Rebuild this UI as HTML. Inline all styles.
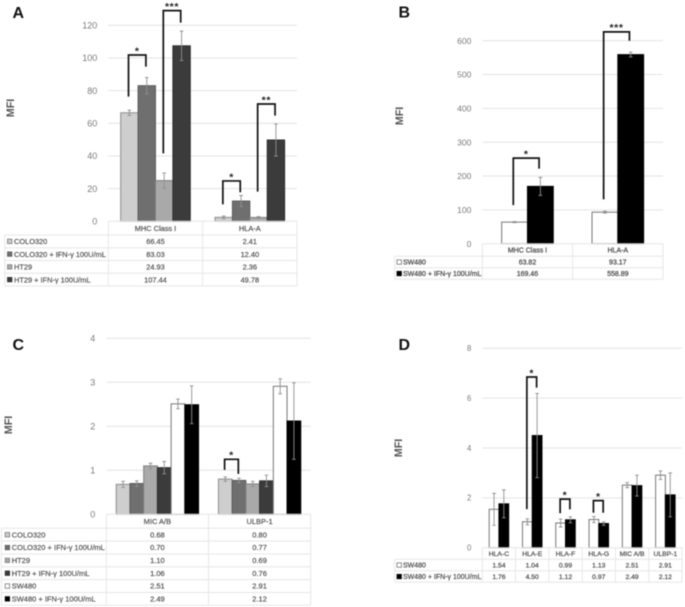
<!DOCTYPE html>
<html lang="en">
<head>
<meta charset="utf-8">
<title>MFI bar charts, panels A to D</title>
<style>
html,body{margin:0;padding:0;background:#fff;width:685px;height:607px;overflow:hidden}
svg{display:block;filter:blur(0.6px)}
text{font-family:"Liberation Sans","DejaVu Sans",sans-serif}
.letter{font-size:16px;font-weight:700;fill:#111}
.ytitle{font-size:10.8px;font-weight:700;fill:#555}
</style>
</head>
<body>
<svg id="figure" xmlns="http://www.w3.org/2000/svg" width="685" height="607" viewBox="0 0 685 607">
  <g id="panel-a">
    <text class="letter" x="12.5" y="18">A</text>
    <text class="ytitle" transform="translate(14,108) rotate(-90)" text-anchor="middle">MFI</text>
  </g>
  <g id="panel-b">
    <text class="letter" x="398.5" y="17.5">B</text>
    <text class="ytitle" transform="translate(403,116) rotate(-90)" text-anchor="middle">MFI</text>
  </g>
  <g id="panel-c">
    <text class="letter" x="12.5" y="350">C</text>
    <text class="ytitle" transform="translate(12,425) rotate(-90)" text-anchor="middle">MFI</text>
  </g>
  <g id="panel-d">
    <text class="letter" x="398.5" y="350">D</text>
    <text class="ytitle" transform="translate(402,448) rotate(-90)" text-anchor="middle">MFI</text>
  </g>
</svg>
<script>
const seriesColoFull = ["COLO320","COLO320 + IFN-γ 100U/mL","HT29","HT29 + IFN-γ 100U/mL"];
const seriesAllSix = ["COLO320","COLO320 + IFN-γ 100U/mL","HT29","HT29 + IFN-γ 100U/mL","SW480","SW480 + IFN-γ 100U/mL"];
const seriesSw = ["SW480","SW480 + IFN-γ 100U/mL"];

const panelACategories = ["MHC Class I","HLA-A"];
const panelATicks = [0,20,40,60,80,100,120];
const panelAValues = [[66.45,2.41],[83.03,12.40],[24.93,2.36],[107.44,49.78]];
const panelAErrors = [[1.6,0.8],[5,3.4],[4.7,0.5],[9,9.8]];
const panelABrackets = [[0,0,1,76.3,101.8,94.7,"*"],[0,2,3,41.6,129,121.6,"***"],[1,0,1,10.4,24.7,17.8,"*"],[1,2,3,18.2,71.8,64.7,"**"]];

const panelBCategories = ["MHC Class I","HLA-A"];
const panelBTicks = [0,100,200,300,400,500,600];
const panelBValues = [[63.82,93.17],[169.46,558.89]];
const panelBErrors = [[1.5,3],[26.6,7]];
const panelBBrackets = [[0,0,1,114,253,222,"*"],[1,0,1,131,626,600,"***"]];

const panelCCategories = ["MIC A/B","ULBP-1"];
const panelCTicks = [0,1,2,3,4];
const panelCValues = [[0.68,0.80],[0.70,0.77],[1.10,0.69],[1.06,0.76],[2.51,2.91],[2.49,2.12]];
const panelCErrors = [[0.07,0.05],[0.06,0.05],[0.06,0.06],[0.14,0.13],[0.11,0.17],[0.43,0.87]];
const panelCBrackets = [[1,0,1,1.01,1.25,0.92,"*"]];

const panelDCategories = ["HLA-C","HLA-E","HLA-F","HLA-G","MIC A/B","ULBP-1"];
const panelDTicks = [0,2,4,6,8];
const panelDValues = [[1.54,1.04,0.99,1.13,2.51,2.91],[1.76,4.50,1.12,0.97,2.49,2.12]];
const panelDErrors = [[0.64,0.12,0.16,0.12,0.1,0.17],[0.56,1.69,0.12,0.07,0.42,0.88]];
const panelDBrackets = [[1,0,1,1.55,6.85,6.42,"*"],[2,0,1,1.38,1.95,1.54,"*"],[3,0,1,1.40,1.89,1.40,"*"]];

const SVGNS = "http://www.w3.org/2000/svg";
const LIGHT = {fill:"#cecece",stroke:"#8c8c8c"};
const MID = {fill:"#6f6f6f",stroke:"#5c5c5c"};
const PALE = {fill:"#a9a9a9",stroke:"#808080"};
const DARK = {fill:"#3b3b3b",stroke:"#2e2e2e"};
const WHITE = {fill:"#ffffff",stroke:"#777777"};
const BLACK = {fill:"#000000",stroke:"#000000"};

function make(tag, parent, props, content){
  const el = document.createElementNS(SVGNS, tag);
  for (const k in props) el.setAttribute(k, props[k]);
  if (content !== undefined) el.textContent = content;
  parent.appendChild(el);
  return el;
}

function drawPanel(cfg){
  const root = document.getElementById(cfg.id);
  const tag = cfg.id;
  const cats = cfg.categories, vals = cfg.values, errs = cfg.errors;
  const n = vals.length;
  const gw = (cfg.x1 - cfg.x0) / cats.length;
  const margin = (gw - n * cfg.barW) / 2;
  const maxV = cfg.ticks[cfg.ticks.length - 1];
  const yS = v => cfg.y0 - v / maxV * (cfg.y0 - cfg.yTop);
  const xS = (g, s) => cfg.x0 + g * gw + margin + s * cfg.barW;
  const textStyle = {"font-weight":cfg.tableWeight,fill:"#555",stroke:"#555","stroke-width":cfg.tableStroke};

  cfg.ticks.forEach(t => {
    if (t !== 0) {
      const grid = make("line", root, {x1:cfg.x0,x2:cfg.x1,y1:yS(t),y2:yS(t),stroke:"#e4e4e4","stroke-width":1});
      
      
    }
    const lab = make("text", root, {x:cfg.x0 - 11,y:yS(t) + cfg.tickFont * 0.36,"text-anchor":"end","font-size":cfg.tickFont,fill:"#7a7a7a"}, String(t));
    
    
  });

  vals.forEach((row, s) => {
    row.forEach((v, g) => {
      const st = cfg.styles[s];
      const bar = make("rect", root, {x:xS(g,s),y:yS(v),width:cfg.barW,height:cfg.y0 - yS(v),fill:st.fill,stroke:st.stroke,"stroke-width":1});
      
      
    });
  });

  vals.forEach((row, s) => {
    row.forEach((v, g) => {
      const cx = xS(g,s) + cfg.barW / 2;
      const e = errs[s][g];
      const lo = yS(v - e), hi = yS(v + e);
      const d = "M" + cx + " " + hi + "V" + lo + "M" + (cx - 1.8) + " " + hi + "H" + (cx + 1.8) + "M" + (cx - 1.8) + " " + lo + "H" + (cx + 1.8);
      const eb = make("path", root, {d:d,fill:"none",stroke:"#8f8f8f","stroke-width":0.9});
      
      
    });
  });

  cfg.brackets.forEach((b, i) => {
    const xa = xS(b[0], b[1]) + 0.45 * cfg.barW;
    const xb = xS(b[0], b[2]) + 0.45 * cfg.barW;
    const d = "M" + xa + " " + yS(b[3]) + "V" + yS(b[4]) + "H" + xb + "V" + yS(b[5]);
    const br = make("path", root, {d:d,fill:"none",stroke:"#111","stroke-width":1.7});
    
    
    const star = make("text", root, {x:(xa + xb) / 2,y:yS(b[4]) - 0.7,"text-anchor":"middle","font-size":10.5,"letter-spacing":0.6,"font-weight":700,fill:"#222"}, b[6]);
    
    
  });

  const rows = cfg.series.length;
  const yBottom = cfg.headBottom + rows * cfg.rowH;
  const lineStyle = {stroke:"#e6e6e6","stroke-width":1};
  const addLine = (x1,y1,x2,y2,name) => {
    const ln = make("line", root, Object.assign({x1:x1,y1:y1,x2:x2,y2:y2}, lineStyle));
    
    
  };
  addLine(cfg.x0, cfg.y0, cfg.x1, cfg.y0, tag + '-x-axis-line');
  for (let r = 0; r <= rows; r++) {
    const yy = cfg.headBottom + r * cfg.rowH;
    addLine(cfg.tableLeft, yy, cfg.x1, yy, tag + '-table-row-line-' + r);
  }
  addLine(cfg.tableLeft, cfg.headBottom, cfg.tableLeft, yBottom, tag + '-table-left-border');
  for (let g = 0; g <= cats.length; g++) {
    const xx = cfg.x0 + g * gw;
    addLine(xx, cfg.y0, xx, yBottom, tag + '-table-column-line-' + g);
  }

  cats.forEach((c, g) => {
    const t = make("text", root, Object.assign({x:cfg.x0 + (g + 0.5) * gw,y:(cfg.y0 + cfg.headBottom) / 2 + cfg.tableFont * 0.36,"text-anchor":"middle","font-size":cfg.tableFont}, textStyle), c);
    
    
  });

  cfg.series.forEach((name, s) => {
    const top = cfg.headBottom + s * cfg.rowH;
    const mid = top + cfg.rowH / 2;
    const st = cfg.styles[s];
    const sw = make("rect", root, {x:cfg.swatchX,y:mid - 2.2,width:4.4,height:4.4,fill:st.fill,stroke:s === 0 || st === WHITE || st === LIGHT ? "#777" : st.stroke,"stroke-width":0.8});
    
    
    const lab = make("text", root, Object.assign({x:cfg.labelX,y:mid + cfg.labelFont * 0.36,"font-size":cfg.labelFont}, textStyle), name);
    
    
    cats.forEach((c, g) => {
      const val = make("text", root, Object.assign({x:cfg.x0 + (g + 0.5) * gw,y:mid + cfg.tableFont * 0.36,"text-anchor":"middle","font-size":cfg.tableFont}, textStyle), vals[s][g].toFixed(2));
      
      
    });
  });
}

drawPanel({id:"panel-a",categories:panelACategories,series:seriesColoFull,ticks:panelATicks,values:panelAValues,errors:panelAErrors,brackets:panelABrackets,
  styles:[LIGHT,MID,PALE,DARK],x0:108.3,x1:297,y0:221.3,yTop:25.3,barW:17.4,headBottom:235,rowH:12.75,tableLeft:4.7,swatchX:7.5,labelX:14,tickFont:9,tableFont:7.4,labelFont:7.4,tableWeight:400,tableStroke:0.2});
drawPanel({id:"panel-b",categories:panelBCategories,series:seriesSw,ticks:panelBTicks,values:panelBValues,errors:panelBErrors,brackets:panelBBrackets,
  styles:[WHITE,BLACK],x0:482.3,x1:663,y0:243.7,yTop:40.7,barW:25.8,headBottom:256.3,rowH:11.5,tableLeft:394.7,swatchX:397,labelX:403,tickFont:8.5,tableFont:7,labelFont:7,tableWeight:400,tableStroke:0.3});
drawPanel({id:"panel-c",categories:panelCCategories,series:seriesAllSix,ticks:panelCTicks,values:panelCValues,errors:panelCErrors,brackets:panelCBrackets,
  styles:[LIGHT,MID,PALE,DARK,WHITE,BLACK],x0:106.3,x1:310.7,y0:514.3,yTop:338.3,barW:13.72,headBottom:528.3,rowH:12.83,tableLeft:1.3,swatchX:5.2,labelX:11.7,tickFont:9,tableFont:7.5,labelFont:7.5,tableWeight:400,tableStroke:0.2});
drawPanel({id:"panel-d",categories:panelDCategories,series:seriesSw,ticks:panelDTicks,values:panelDValues,errors:panelDErrors,brackets:panelDBrackets,
  styles:[WHITE,BLACK],x0:482.3,x1:682,y0:547.7,yTop:348.3,barW:9.75,headBottom:559.3,rowH:11.5,tableLeft:394.7,swatchX:397,labelX:403,tickFont:7.8,tableFont:6.8,labelFont:7,tableWeight:400,tableStroke:0.25});
</script>
</body>
</html>
